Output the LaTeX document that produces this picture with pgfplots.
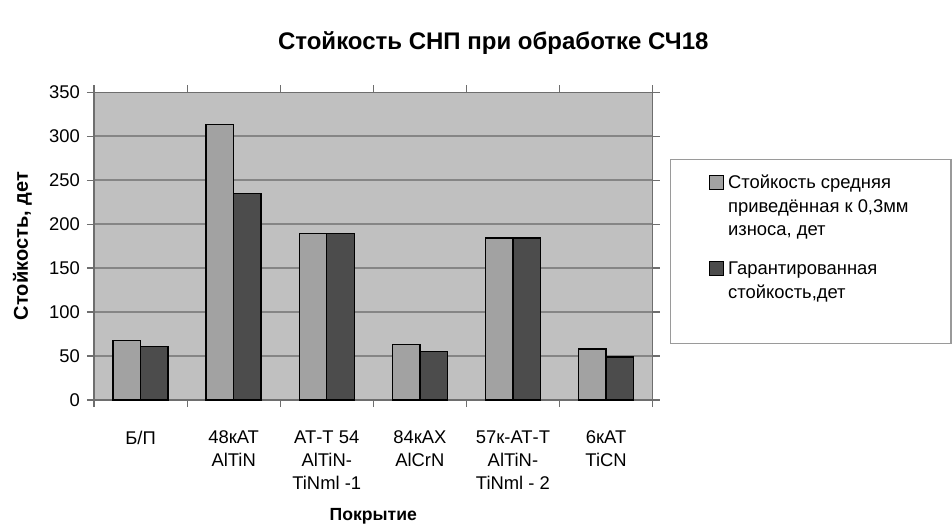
\documentclass[border=0pt]{standalone}
\usepackage{fontspec}
\setmainfont{Liberation Sans}
\usepackage{pgfplots}
\pgfplotsset{compat=1.18}
\definecolor{bgc}{HTML}{C0C0C0}
\definecolor{lightbar}{HTML}{A2A2A2}
\definecolor{darkbar}{HTML}{4C4C4C}
\definecolor{gridc}{HTML}{858585}
\definecolor{axisc}{HTML}{6E6E6E}
\definecolor{legc}{HTML}{9A9A9A}
\newcommand{\basefont}{\fontsize{9.2}{11.4}\selectfont}
\begin{document}
\begin{tikzpicture}
\path[use as bounding box] (-47pt,-63pt) rectangle (429pt,200pt);
\begin{axis}[
  scale only axis,
  width=279.3pt, height=153.9pt,
  at={(0pt,0pt)}, anchor=south west,
  ymin=0, ymax=350, ytick={0,50,...,350},
  xmin=-0.5, xmax=5.5,
  xtick={0,...,5},
  xticklabels={{Б/П},{48кАТ\\AlTiN},{АТ-Т 54\\AlTiN-\\TiNml -1},{84кАХ\\AlCrN},{57к-АТ-Т\\AlTiN-\\TiNml - 2},{6кАТ\\TiCN}},
  minor xtick={-0.5,0.5,...,5.5},
  major x tick style={draw=none},
  minor tick length=3.5pt,
  major tick length=3.5pt,
  tick align=outside,
  tick style={axisc, line width=0.6pt},
  axis background/.style={fill=bgc},
  axis line style={axisc, line width=0.6pt},
  ymajorgrids,
  grid style={gridc, line width=0.7pt},
  ybar=0pt, bar width=0.295,
  every axis plot/.append style={draw=black, line width=0.7pt},
  /pgf/number format/assume math mode=true,
  xticklabel style={align=center, font=\basefont, anchor=north, yshift=-8.5pt},
  yticklabel style={font=\basefont, anchor=east, xshift=0pt},
  title={Стойкость СНП при обработке СЧ18},
  title style={font=\fontsize{12}{14}\selectfont\bfseries, at={(0.7147,1.059)}, anchor=south},
  ylabel={Стойкость, дет},
  ylabel style={font=\fontsize{10}{11}\selectfont\bfseries, at={(-0.128,0.5)}, anchor=center},
  xlabel={Покрытие},
  xlabel style={font=\fontsize{8.8}{10}\selectfont\bfseries, at={(0.5,-0.39)}, anchor=base},
  legend cell align=left,
  legend image code/.code={\draw[#1, line width=0.6pt] (0pt,-0.3pt) rectangle (7pt,6.7pt);},
  legend style={at={(1.031,0.783)}, anchor=north west, draw=legc, line width=0.6pt, fill=white,
    inner xsep=19pt, inner ysep=7.5pt, row sep=2.25pt,
    cells={anchor=base west},
    nodes={font=\basefont, inner xsep=2.2pt, inner ysep=0pt, text height=7pt, text depth=2.5pt}},
]
\addplot[fill=lightbar, bar shift=-0.1475, forget plot] coordinates {(0,68) (1,313) (2,189) (3,63) (4,184) (5,58)};
\addplot[fill=darkbar, bar shift=0.1475, forget plot] coordinates {(0,61) (1,235) (2,189) (3,55) (4,184) (5,49)};
\addlegendimage{fill=lightbar, draw=black}
\addlegendentry{Стойкость средняя}
\addlegendimage{empty legend}
\addlegendentry{приведённая к 0,3мм}
\addlegendimage{empty legend}
\addlegendentry{износа, дет}
\addlegendimage{fill=darkbar, draw=black}
\addlegendentry[text height=14.75pt]{Гарантированная}
\addlegendimage{empty legend}
\addlegendentry[text depth=15.25pt]{стойкость,дет}
\end{axis}
\end{tikzpicture}
\end{document}
